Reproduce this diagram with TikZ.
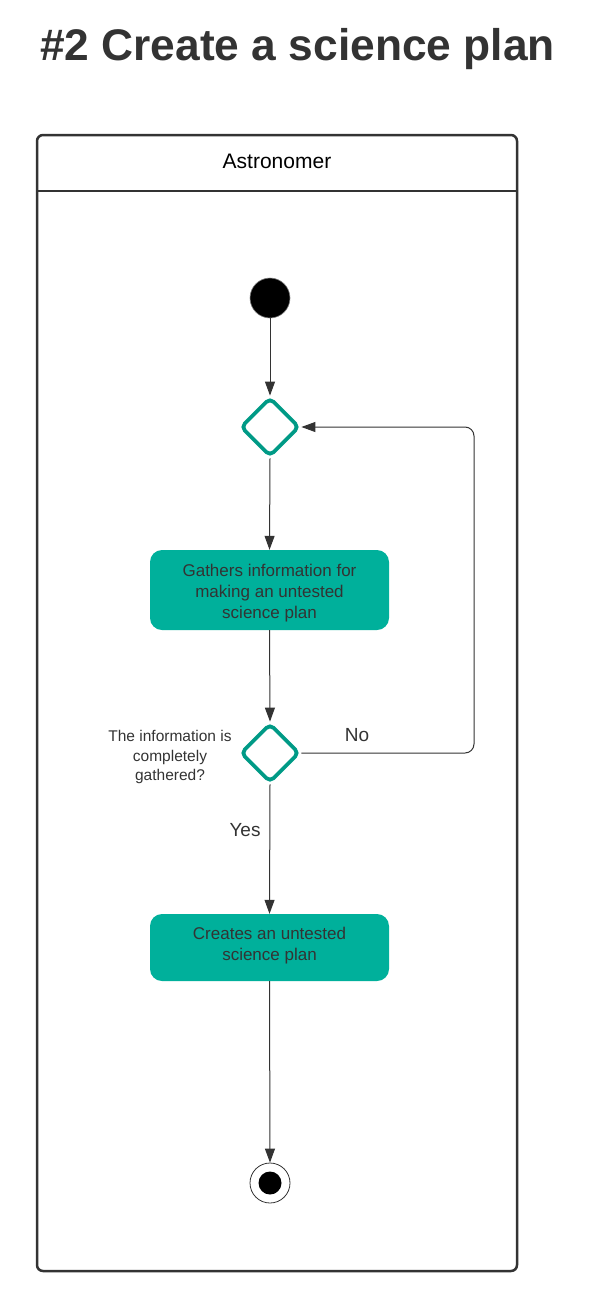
\documentclass[tikz,border=0pt]{standalone}
\usepackage{fontspec}
\setmainfont{Liberation Sans}
\usetikzlibrary{shapes.geometric,arrows.meta}
\definecolor{dark}{HTML}{333333}
\definecolor{tealfill}{HTML}{00B09B}
\definecolor{tealline}{HTML}{009A86}
\tikzset{
  lane/.style={draw=dark, line width=2.5pt, rounded corners=6pt},
  action/.style={rectangle, rounded corners=12pt, fill=tealfill, text=dark, align=center,
    minimum width=239pt, font=\fontsize{17}{21}\selectfont, inner sep=0pt},
  decision/.style={diamond, draw=tealline, line width=3.8pt, fill=white, rounded corners=5pt,
    minimum width=59pt, minimum height=59pt, inner sep=0pt},
  flow/.style={draw=dark, line width=1pt, -{Triangle[length=14pt,width=10pt]}},
  lbl/.style={text=dark, font=\fontsize{19}{22}\selectfont, inner sep=0pt},
}
\begin{document}
\begin{tikzpicture}[x=1pt,y=-1pt]
\useasboundingbox (0,0) rectangle (595,1293);
\node[anchor=base, text=dark, font=\bfseries\fontsize{44.3}{50}\selectfont, inner sep=0pt] (title) at (297.5,60) {\#2 Create a science plan};
\draw[lane] (37,135) rectangle (517,1271);
\coordinate (hl) at (37,191);
\coordinate (hr) at (517,191);
\draw[draw=dark, line width=2.5pt] (hl) -- (hr);
\node[anchor=base, text=black, font=\fontsize{21}{24}\selectfont, inner sep=0pt] (lanename) at (277,168) {Astronomer};
% start
\node[circle, fill=black, draw=gray, line width=0.6pt, minimum size=40pt, inner sep=0pt] (start) at (270,298) {};
% decision 1
\node[decision] (d1) at (270,427) {};
% action 1
\node[action, minimum height=80pt] (a1) at (269.5,590) {};
\node[text=dark, align=center, font=\fontsize{17}{21}\selectfont, inner sep=0pt] (a1t) at (269.5,593) {Gathers information for\\making an untested\\science plan};
% decision 2
\node[decision] (d2) at (270,753) {};
\node[text=dark, align=center, font=\fontsize{15.5}{19.5}\selectfont, inner sep=0pt] (q) at (170,757) {The information is\\completely\\gathered?};
% action 2
\node[action, minimum height=67pt] (a2) at (269.5,947.5) {};
\node[text=dark, align=center, font=\fontsize{17}{21}\selectfont, inner sep=0pt] (a2t) at (269.5,945.5) {Creates an untested\\science plan};
% end
\node[circle, draw=dark, line width=0.8pt, minimum size=40pt, inner sep=0pt] (end) at (270,1183) {};
\node[circle, fill=black, minimum size=23pt, inner sep=0pt] (endin) at (270,1183) {};
% connectors
\draw[flow] (start) -- (d1.north);
\draw[flow] (d1.south) -- (a1.north);
\draw[flow] (a1.south) -- (d2.north);
\draw[flow] (d2.south) -- (a2.north);
\draw[flow] (a2.south) -- (end.north);
\coordinate (c1) at (474,753);
\coordinate (c2) at (474,427);
\draw[flow, rounded corners=9pt] (d2.east) -- (c1) -- (c2) -- (d1.east);
\node[lbl] (no) at (357,735) {No};
\node[lbl] (yes) at (245,830) {Yes};
\end{tikzpicture}
\end{document}
